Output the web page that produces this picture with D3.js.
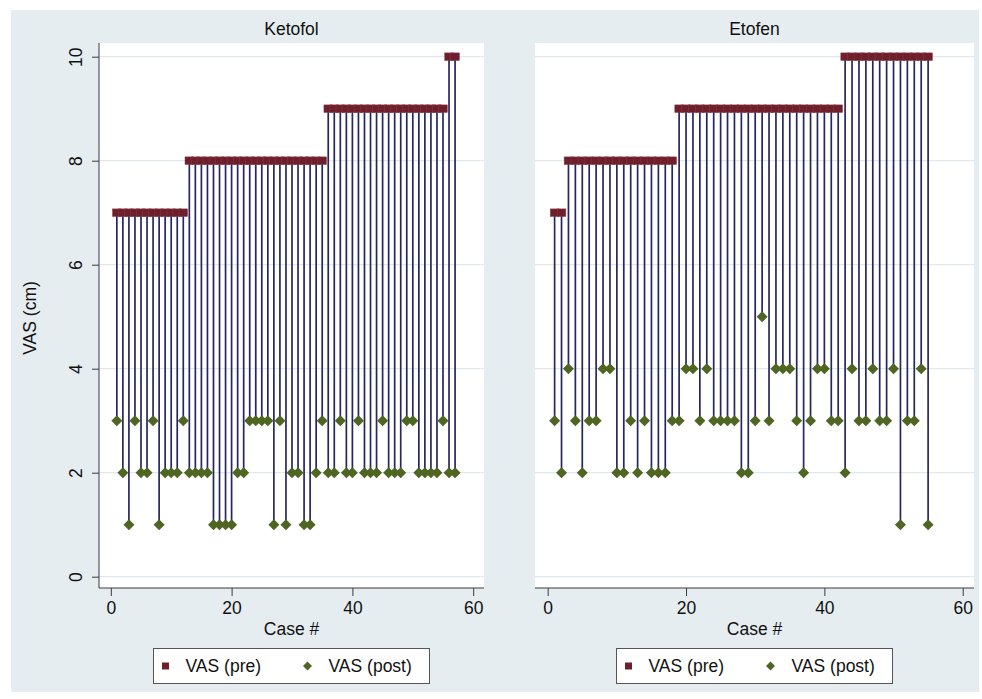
<!DOCTYPE html>
<html>
<head>
<meta charset="utf-8">
<script src="https://cdn.jsdelivr.net/npm/d3@7"></script>
<style>
html,body{margin:0;padding:0;background:#ffffff;}
svg{display:block;font-family:"Liberation Sans",Arial,Helvetica,sans-serif;}
</style>
</head>
<body>
<svg id="chart" width="982" height="699"></svg>
<script>
// ---------------- data ----------------
const panelTitles = ["Ketofol", "Etofen"];
const xTicks = [0, 20, 40, 60];
const yTicks = [0, 2, 4, 6, 8, 10];
const legendLabels = ["VAS (pre)", "VAS (post)"];
const xTitle = "Case #";
const yTitle = "VAS (cm)";

const ketofolCases = [1,2,3,4,5,6,7,8,9,10,11,12,13,14,15,16,17,18,19,20,21,22,23,24,25,26,27,28,29,30,31,32,33,34,35,36,37,38,39,40,41,42,43,44,45,46,47,48,49,50,51,52,53,54,55,56,57];
const ketofolPre = [7,7,7,7,7,7,7,7,7,7,7,7,
  8,8,8,8,8,8,8,8,8,8,8,8,8,8,8,8,8,8,8,8,8,8,8,
  9,9,9,9,9,9,9,9,9,9,9,9,9,9,9,9,9,9,9,9,
  10,10];
const ketofolPost = [3,2,1,3,2,2,3,1,2,2,2,3,2,2,2,2,1,1,1,1,2,2,3,3,3,3,1,3,1,2,2,1,1,2,3,2,2,3,2,2,3,2,2,2,3,2,2,2,3,3,2,2,2,2,3,2,2];

const etofenCases = [1,2,3,4,5,6,7,8,9,10,11,12,13,14,15,16,17,18,19,20,21,22,23,24,25,26,27,28,29,30,31,32,33,34,35,36,37,38,39,40,41,42,43,44,45,46,47,48,49,50,51,52,53,54,55];
const etofenPre = [7,7,
  8,8,8,8,8,8,8,8,8,8,8,8,8,8,8,8,
  9,9,9,9,9,9,9,9,9,9,9,9,9,9,9,9,9,9,9,9,9,9,9,9,
  10,10,10,10,10,10,10,10,10,10,10,10,10];
const etofenPost = [3,2,4,3,2,3,3,4,4,2,2,3,2,3,2,2,2,3,3,4,4,3,4,3,3,3,3,2,2,3,5,3,4,4,4,3,2,3,4,4,3,3,2,4,3,3,4,3,3,4,1,3,3,4,1];

// ---------------- style ----------------
const C = {
  bg: "#e6edf0",
  grid: "#e2e9ed",
  axis: "#3a3a3a",
  stem: "#27275f",
  pre: "#6f1f2b",
  preEdge: "#8a3a44",
  post: "#4f6623",
  text: "#111111"
};
const FS = 17.5;

const svg = d3.select("#chart");
svg.append("rect").attr("x", 11).attr("y", 10).attr("width", 968).attr("height", 682).attr("fill", C.bg);

const yScale = d3.scaleLinear().domain([0, 10]).range([576.7, 56.7]);

const panels = [
  {title: panelTitles[0], cases: ketofolCases, pre: ketofolPre, post: ketofolPost,
   left: 99, right: 484, x0: 110.8, x60: 473.2, yAxis: true},
  {title: panelTitles[1], cases: etofenCases, pre: etofenPre, post: etofenPost,
   left: 535, right: 974, x0: 547.7, x60: 962.7, yAxis: false}
];
const plotTop = 43, plotBottom = 588;

const diamond = (r) => `M0,${-r}L${r},0L0,${r}L${-r},0Z`;

panels.forEach(p => {
  const x = d3.scaleLinear().domain([0, 60]).range([p.x0, p.x60]);
  const g = svg.append("g");
  g.append("rect").attr("x", p.left).attr("y", plotTop)
    .attr("width", p.right - p.left).attr("height", plotBottom - plotTop).attr("fill", "#ffffff");
  g.selectAll("line.grid").data(yTicks).join("line").attr("class", "grid")
    .attr("x1", p.left).attr("x2", p.right)
    .attr("y1", d => yScale(d)).attr("y2", d => yScale(d))
    .attr("stroke", C.grid).attr("stroke-width", 1.3);

  const rows = p.cases.map((c, i) => ({c, pre: p.pre[i], post: p.post[i]}));
  g.selectAll("line.stem").data(rows).join("line").attr("class", "stem")
    .attr("x1", d => x(d.c)).attr("x2", d => x(d.c))
    .attr("y1", d => yScale(d.post)).attr("y2", d => yScale(d.pre))
    .attr("stroke", C.stem).attr("stroke-width", 1.7);
  g.selectAll("rect.pre").data(rows).join("rect").attr("class", "pre")
    .attr("x", d => x(d.c) - 4.3).attr("y", d => yScale(d.pre) - 3.8)
    .attr("width", 8.6).attr("height", 7.6)
    .attr("fill", C.pre).attr("stroke", C.preEdge).attr("stroke-width", 0.5);
  g.selectAll("path.post").data(rows).join("path").attr("class", "post")
    .attr("transform", d => `translate(${x(d.c)},${yScale(d.post)})`)
    .attr("d", diamond(5.5))
    .attr("fill", C.post);

  const xa = g.append("g").attr("transform", `translate(0,${plotBottom})`);
  xa.append("line").attr("x1", p.left).attr("x2", p.right).attr("y1", 0).attr("y2", 0)
    .attr("stroke", C.axis).attr("stroke-width", 1);
  const axisX = d3.axisBottom(x).tickValues(xTicks).tickSize(8).tickPadding(4).tickFormat(d3.format("d"));
  const ax = xa.append("g").call(axisX);
  ax.select(".domain").remove();
  ax.selectAll(".tick line").attr("stroke", C.axis);
  ax.selectAll(".tick text").attr("font-size", FS).attr("fill", C.text)
    .attr("font-family", "Liberation Sans, Arial, sans-serif").attr("dy", "0.95em").attr("y", 9);

  if (p.yAxis) {
    const ya = g.append("g").attr("transform", `translate(${p.left},0)`);
    ya.append("line").attr("x1", 0).attr("x2", 0).attr("y1", plotTop).attr("y2", plotBottom)
      .attr("stroke", C.axis).attr("stroke-width", 1);
    const axisY = d3.axisLeft(yScale).tickValues(yTicks).tickSize(7).tickFormat(d3.format("d"));
    const ay = ya.append("g").call(axisY);
    ay.select(".domain").remove();
    ay.selectAll(".tick line").attr("stroke", C.axis);
    ay.selectAll(".tick text").attr("font-size", FS).attr("fill", C.text)
      .attr("font-family", "Liberation Sans, Arial, sans-serif")
      .attr("x", null).attr("dy", null)
      .attr("text-anchor", "middle")
      .attr("transform", "translate(-17,0) rotate(-90)")
      .attr("y", 0);
  }

  const cx = (p.left + p.right) / 2;
  svg.append("text").attr("x", cx).attr("y", 35).attr("text-anchor", "middle")
    .attr("font-size", FS).attr("fill", C.text).text(p.title);
  svg.append("text").attr("x", cx).attr("y", 635).attr("text-anchor", "middle")
    .attr("font-size", FS).attr("fill", C.text).text(xTitle);

  const lw = 276, lh = 35, lx = cx - lw / 2, ly = 648.5;
  const lg = svg.append("g").attr("transform", `translate(${lx},${ly})`);
  lg.append("rect").attr("x", 0).attr("y", 0).attr("width", lw).attr("height", lh)
    .attr("fill", "#ffffff").attr("stroke", "#555555").attr("stroke-width", 1);
  lg.append("rect").attr("x", 12 - 3.5).attr("y", 17.5 - 3.5).attr("width", 7).attr("height", 7)
    .attr("fill", C.pre);
  lg.append("text").attr("x", 32).attr("y", 23.5).attr("font-size", FS).attr("fill", C.text).text(legendLabels[0]);
  lg.append("path").attr("transform", "translate(154,17.5)").attr("d", diamond(4.5)).attr("fill", C.post);
  lg.append("text").attr("x", 175).attr("y", 23.5).attr("font-size", FS).attr("fill", C.text).text(legendLabels[1]);
});

svg.append("text").attr("transform", "translate(36,318) rotate(-90)").attr("text-anchor", "middle")
  .attr("font-size", FS).attr("fill", C.text).text(yTitle);
</script>
</body>
</html>
